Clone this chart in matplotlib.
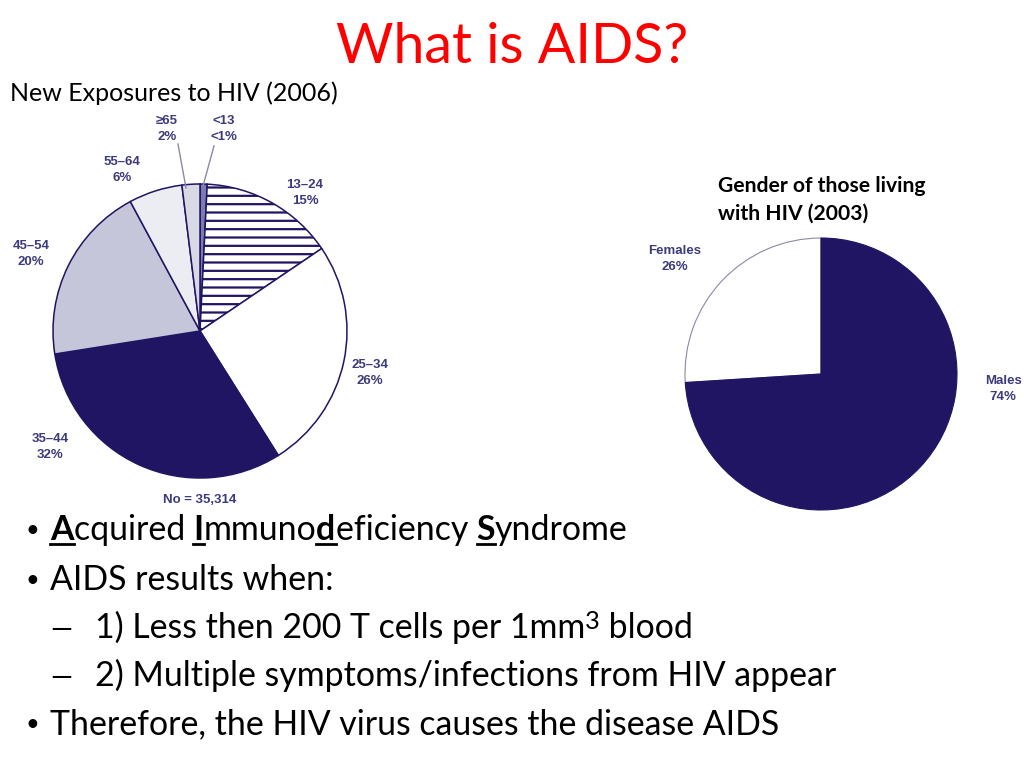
import matplotlib
matplotlib.use('Agg')
import matplotlib.pyplot as plt
from matplotlib.lines import Line2D

# data
age_groups = ['<13', '13–24', '25–34', '35–44', '45–54', '55–64', '≥65']
age_pct = [0.8, 15, 26, 32, 20, 6, 2]
age_text = ['<1%', '15%', '26%', '32%', '20%', '6%', '2%']
gender = ['Females', 'Males']
gender_pct = [26, 74]

NAVY = '#1f1563'
LABEL = '#3b3b7d'
W, H = 1024, 768

plt.rcParams['font.family'] = ['Lato', 'DejaVu Sans']
plt.rcParams['hatch.linewidth'] = 1.6

fig = plt.figure(figsize=(W / 100, H / 100), dpi=100)
renderer = fig.canvas.get_renderer()


def fx(x):
    return x / W


def fy(y):
    return 1 - y / H


def adv(s, **kw):
    # advance width in pixels, spaces included
    t1 = fig.text(0, 0, '|' + s + '|', **kw)
    t2 = fig.text(0, 0, '||', **kw)
    w = t1.get_window_extent(renderer).width - t2.get_window_extent(renderer).width
    t1.remove()
    t2.remove()
    return w


def run(x, y, pieces, size):
    # pieces: (text, bold, underline, superscript)
    for s, bold, under, sup in pieces:
        kw = dict(fontsize=size * (0.75 if sup else 1),
                  fontweight='bold' if bold else 'normal', color='black')
        yy = y - (size * 0.38 if sup else 0)
        fig.text(fx(x), fy(yy), s, va='baseline', ha='left', **kw)
        w = adv(s, **kw)
        if under:
            fig.add_artist(Line2D([fx(x), fx(x + w)], [fy(y + 4), fy(y + 4)],
                                  color='black', lw=2, transform=fig.transFigure))
        x += w


def bullet(x, y):
    fig.text(fx(x), fy(y - 3), '•', fontsize=17, va='baseline')


def dash(x, y):
    fig.text(fx(x), fy(y), '—', fontsize=20, va='baseline')


# title and headings
fig.text(0.5, fy(63), 'What is AIDS?', color='#ff0000', fontsize=40,
         ha='center', va='baseline')
fig.text(fx(10), fy(101), 'New Exposures to HIV (2006)', fontsize=18,
         ha='left', va='baseline')
fig.text(fx(718), fy(192), 'Gender of those living', fontsize=15.2,
         fontweight='bold', ha='left', va='baseline')
fig.text(fx(718), fy(220), 'with HIV (2003)', fontsize=15.2,
         fontweight='bold', ha='left', va='baseline')

# left pie
r1 = 147
pad = 1.1
ax1 = fig.add_axes([fx(200 - r1 * pad), fy(331 + r1 * pad),
                    2 * r1 * pad / W, 2 * r1 * pad / H])
colors1 = ['#7c7cb0', 'white', 'white', NAVY, '#c6c6da', '#ececf3', '#d9d9e6']
wedges, _ = ax1.pie(age_pct, colors=colors1, startangle=90, counterclock=False,
                    wedgeprops=dict(edgecolor=NAVY, linewidth=1.1))
wedges[1].set_hatch('--')
ax1.set_xlim(-pad, pad)
ax1.set_ylim(-pad, pad)
ax1.set_aspect('equal')
ax1.axis('off')

label_pos = [(224, 129), (305, 193), (370, 373), (50, 447),
             (31, 254), (122, 170), (167, 129)]
lab_font = ['Liberation Sans', 'DejaVu Sans']
for name, pct, (lx, ly) in zip(age_groups, age_text, label_pos):
    fig.text(fx(lx), fy(ly), name + '\n' + pct, ha='center', va='center',
             fontsize=9.5, fontweight='bold', color=LABEL, family=lab_font,
             linespacing=1.4)
fig.add_artist(Line2D([fx(178), fx(186)], [fy(144), fy(188)], color='#8a8aa8',
                      lw=1, transform=fig.transFigure))
fig.add_artist(Line2D([fx(214), fx(203)], [fy(146), fy(186)], color='#8a8aa8',
                      lw=1, transform=fig.transFigure))
fig.text(fx(200), fy(500), 'No = 35,314', ha='center', va='center', fontsize=9.5,
         fontweight='bold', color=LABEL, family=lab_font)

# right pie
r2 = 136
ax2 = fig.add_axes([fx(821 - r2 * pad), fy(374 + r2 * pad),
                    2 * r2 * pad / W, 2 * r2 * pad / H])
w2, _ = ax2.pie(gender_pct, colors=['white', NAVY], startangle=90,
                counterclock=True,
                wedgeprops=dict(edgecolor='#8a8aa8', linewidth=0.8))
w2[1].set_edgecolor(NAVY)
ax2.set_xlim(-pad, pad)
ax2.set_ylim(-pad, pad)
ax2.set_aspect('equal')
ax2.axis('off')
for name, pct, (lx, ly) in zip(gender, gender_pct, [(675, 259), (1003, 389)]):
    fig.text(fx(lx), fy(ly), '%s\n%d%%' % (name, pct), ha='center', va='center',
             fontsize=9.5, fontweight='bold', color=LABEL, family=lab_font,
             linespacing=1.35)

# bullets
bs = 24.4
bullet(26, 540)
run(50, 540, [('A', True, True, False), ('cquired ', False, False, False),
              ('I', True, True, False), ('mmuno', False, False, False),
              ('d', True, True, False), ('eficiency ', False, False, False),
              ('S', True, True, False), ('yndrome', False, False, False)], bs)
bullet(26, 590)
run(50, 590, [('AIDS results when:', False, False, False)], bs)
dash(50, 638)
run(95, 638, [('1) Less then 200 T cells per 1mm', False, False, False),
              ('3', False, False, True), (' blood', False, False, False)], bs)
dash(50, 686)
run(95, 686, [('2) Multiple symptoms/infections from HIV appear', False, False, False)], bs)
bullet(26, 734)
run(50, 734, [('Therefore, the HIV virus causes the disease AIDS', False, False, False)], bs)

fig.savefig('out.png', dpi=100)
